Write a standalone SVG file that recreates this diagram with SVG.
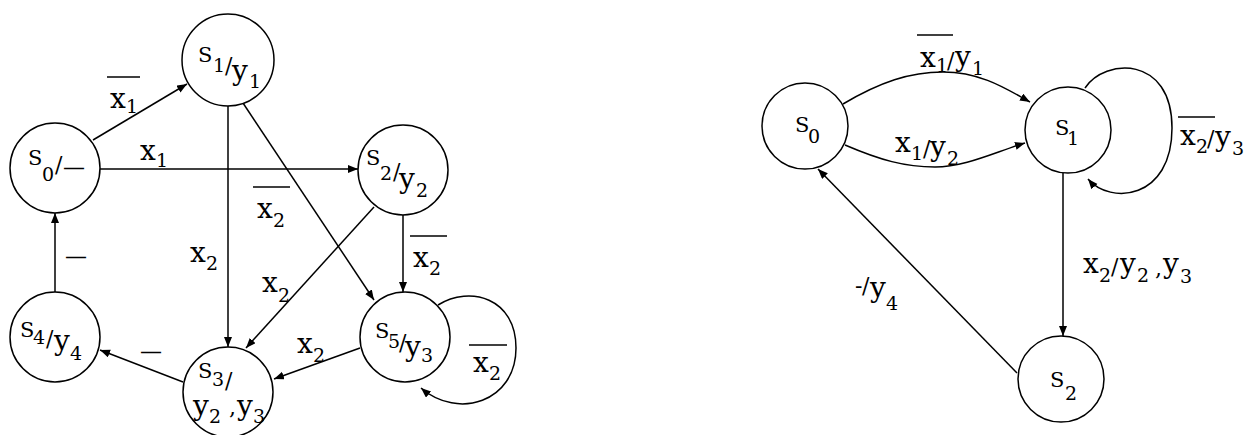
<svg xmlns="http://www.w3.org/2000/svg" width="1256" height="435" viewBox="0 0 1256 435">
<style>
.n{fill:#fff;stroke:#000;stroke-width:1.5}
.e{fill:none;stroke:#000;stroke-width:1.5;marker-end:url(#ah)}
.o{stroke:#000;stroke-width:1.6}
text{font-family:"DejaVu Serif","Liberation Serif",serif;fill:#000}
.L{font-size:28px}
.S{font-size:21px}
.D{font-size:19px}
.P{font-size:22px}
</style>
<defs>
<marker id="ah" markerWidth="11" markerHeight="9" refX="10" refY="4" orient="auto" markerUnits="userSpaceOnUse">
<path d="M0,0 L10,4 L0,8 z" fill="#000"/>
</marker>
</defs>
<rect width="1256" height="435" fill="#fff"/>
<g id="connectors">
<path class="e" d="M93,140 L187,84"/>
<path class="e" d="M100,169 L358,169"/>
<path class="e" d="M228,106 L228,347"/>
<path class="e" d="M243,103 L374,300"/>
<path class="e" d="M374,207 L246,348"/>
<path class="e" d="M403,215 L403,292"/>
<path class="e" d="M360,348 L274,379"/>
<path class="e" d="M438,305 C470,285 516,298 516,348 C516,402 458,420 421,388"/>
<path class="e" d="M55,292 L55,213"/>
<path class="e" d="M183,382 L100,350"/>
<path class="e" d="M843,104 C880,82 910,72 943,72 C980,72 1005,88 1030,102"/>
<path class="e" d="M845,145 C880,160 905,167 935,167 C965,167 995,152 1025,143"/>
<path class="e" d="M1085,88 C1105,58 1172,55 1172,128 C1172,200 1110,205 1088,179"/>
<path class="e" d="M1063,173 L1063,336"/>
<path class="e" d="M1017,373 L818,169"/>
</g>
<g id="edge-labels">
<line class="o" x1="107" y1="77" x2="140" y2="77"/>
<text><tspan class="L" x="110" y="108">x</tspan><tspan class="D" x="126" y="113">1</tspan></text>
<text><tspan class="L" x="140" y="160">x</tspan><tspan class="D" x="156" y="167">1</tspan></text>
<line class="o" x1="253" y1="187" x2="290" y2="187"/>
<text><tspan class="L" x="257" y="218">x</tspan><tspan class="D" x="273" y="227">2</tspan></text>
<text><tspan class="L" x="190" y="262">x</tspan><tspan class="D" x="206" y="270">2</tspan></text>
<text><tspan class="L" x="262" y="292">x</tspan><tspan class="D" x="278" y="302">2</tspan></text>
<line class="o" x1="410" y1="236" x2="447" y2="236"/>
<text><tspan class="L" x="413" y="267">x</tspan><tspan class="D" x="429" y="275">2</tspan></text>
<text><tspan class="L" x="297" y="353">x</tspan><tspan class="D" x="313" y="362">2</tspan></text>
<line class="o" x1="469" y1="345" x2="507" y2="345"/>
<text><tspan class="L" x="473" y="372">x</tspan><tspan class="D" x="489" y="380">2</tspan></text>
<text class="P" x="65" y="264">—</text>
<text class="P" x="140" y="359">—</text>
<line class="o" x1="917" y1="35" x2="953" y2="35"/>
<text><tspan class="L" x="920" y="67">x</tspan><tspan class="D" x="936" y="72">1</tspan><tspan class="P" x="947" y="68">/</tspan><tspan class="L" x="955" y="66">y</tspan><tspan class="D" x="972" y="75">1</tspan></text>
<text><tspan class="L" x="895" y="152">x</tspan><tspan class="D" x="911" y="160">1</tspan><tspan class="P" x="923" y="156">/</tspan><tspan class="L" x="930" y="156">y</tspan><tspan class="D" x="947" y="165">2</tspan></text>
<line class="o" x1="1178" y1="117" x2="1215" y2="117"/>
<text><tspan class="L" x="1180" y="145">x</tspan><tspan class="D" x="1196" y="153">2</tspan><tspan class="P" x="1207" y="146">/</tspan><tspan class="L" x="1215" y="146">y</tspan><tspan class="D" x="1232" y="155">3</tspan></text>
<text><tspan class="L" x="1083" y="273">x</tspan><tspan class="D" x="1099" y="282">2</tspan><tspan class="P" x="1111" y="274">/</tspan><tspan class="L" x="1120" y="273">y</tspan><tspan class="D" x="1137" y="282">2</tspan><tspan class="P" x="1155" y="276">,</tspan><tspan class="L" x="1163" y="273">y</tspan><tspan class="D" x="1180" y="283">3</tspan></text>
<text><tspan class="P" x="855" y="293">-</tspan><tspan class="P" x="862" y="293">/</tspan><tspan class="L" x="870" y="297">y</tspan><tspan class="D" x="886" y="310">4</tspan></text>
</g>
<g id="L-S0"><circle class="n" cx="55" cy="168" r="45"/>
<text><tspan class="S" x="28" y="165">S</tspan><tspan class="D" x="42" y="181">0</tspan><tspan class="P" x="55" y="172">/</tspan><tspan class="P" x="63" y="175">—</tspan></text></g>
<g id="L-S1"><circle class="n" cx="228" cy="60" r="46"/>
<text><tspan class="S" x="198" y="62">S</tspan><tspan class="D" x="213" y="72">1</tspan><tspan class="P" x="225" y="73">/</tspan><tspan class="L" x="232" y="80">y</tspan><tspan class="D" x="249" y="88">1</tspan></text></g>
<g id="L-S2"><circle class="n" cx="403" cy="170" r="45"/>
<text><tspan class="S" x="366" y="165">S</tspan><tspan class="D" x="380" y="180">2</tspan><tspan class="P" x="393" y="179">/</tspan><tspan class="L" x="399" y="188">y</tspan><tspan class="D" x="416" y="197">2</tspan></text></g>
<g id="L-S5"><circle class="n" cx="405" cy="337" r="45"/>
<text><tspan class="S" x="375" y="338">S</tspan><tspan class="D" x="388" y="348">5</tspan><tspan class="P" x="399" y="350">/</tspan><tspan class="L" x="405" y="356">y</tspan><tspan class="D" x="421" y="362">3</tspan></text></g>
<g id="L-S3"><circle class="n" cx="228" cy="392" r="45"/>
<text><tspan class="S" x="198" y="378">S</tspan><tspan class="D" x="212" y="386">3</tspan><tspan class="P" x="225" y="388">/</tspan><tspan class="L" x="193" y="415">y</tspan><tspan class="D" x="209" y="423">2</tspan><tspan class="P" x="229" y="415">,</tspan><tspan class="L" x="237" y="415">y</tspan><tspan class="D" x="253" y="423">3</tspan></text></g>
<g id="L-S4"><circle class="n" cx="55" cy="337" r="45"/>
<text><tspan class="S" x="20" y="337">S</tspan><tspan class="D" x="33" y="344">4</tspan><tspan class="P" x="46" y="346">/</tspan><tspan class="L" x="54" y="350">y</tspan><tspan class="D" x="70" y="360">4</tspan></text></g>
<g id="R-S0"><circle class="n" cx="805" cy="126" r="43"/>
<text><tspan class="S" x="795" y="132">S</tspan><tspan class="D" x="808" y="143">0</tspan></text></g>
<g id="R-S1"><circle class="n" cx="1068" cy="130" r="43"/>
<text><tspan class="S" x="1055" y="135">S</tspan><tspan class="D" x="1067" y="145">1</tspan></text></g>
<g id="R-S2"><circle class="n" cx="1061" cy="379" r="43"/>
<text><tspan class="S" x="1050" y="387">S</tspan><tspan class="D" x="1065" y="400">2</tspan></text></g>
</svg>
